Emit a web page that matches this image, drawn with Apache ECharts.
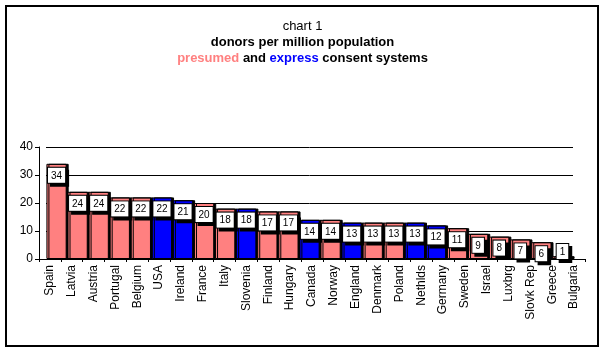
<!DOCTYPE html>
<html>
<head>
<meta charset="utf-8">
<script src="https://cdn.jsdelivr.net/npm/echarts@6/dist/echarts.min.js"></script>
<style>
  html, body { margin: 0; padding: 0; background: #fff; }
  #chart { width: 605px; height: 352px; }
</style>
</head>
<body>
<div id="chart"></div>
<script>
// data
const countries = ['Spain', 'Latvia', 'Austria', 'Portugal', 'Belgium', 'USA', 'Ireland', 'France', 'Italy',
  'Slovenia', 'Finland', 'Hungary', 'Canada', 'Norway', 'England', 'Denmark', 'Poland', 'Nethlds',
  'Germany', 'Sweden', 'Israel', 'Luxbrg', 'Slovk Rep', 'Greece', 'Bulgaria'];
const donors = [34, 24, 24, 22, 22, 22, 21, 20, 18, 18, 17, 17, 14, 14, 13, 13, 13, 13, 12, 11, 9, 8, 7, 6, 1];
// P = presumed consent, E = express consent
const consent = ['P', 'P', 'P', 'P', 'P', 'E', 'E', 'P', 'P', 'E', 'P', 'P', 'E', 'P', 'E', 'P', 'P', 'E',
  'E', 'P', 'P', 'P', 'P', 'P', 'P'];
const yTicks = [0, 10, 20, 30, 40];

const PINK = '#ff8080';
const BLUE = '#0000ff';
const font = 'Arial, "Liberation Sans", sans-serif';

const chart = echarts.init(document.getElementById('chart'));

// very short bars get their box sitting on the floor
const labelPos = (v) => (v < 3 ? { position: 'insideBottom', distance: 0 } : {});

const barData = donors.map((v, i) => ({
  value: v,
  itemStyle: { color: consent[i] === 'E' ? BLUE : PINK },
}));

// black box behind each white label, acts as its drop shadow
const shadowData = donors.map((v) => ({ value: v, label: labelPos(v) }));
const boxData = donors.map((v) => ({ value: v, label: labelPos(v) }));

const baseLabel = {
  show: true,
  position: 'insideTop',
  distance: 4,
  fontSize: 10,
  fontFamily: font,
  borderColor: '#000',
  borderWidth: 1,
  padding: [3, 3, 2, 3],
};

const option = {
  backgroundColor: '#fff',
  animation: false,
  title: {
    left: 'center',
    top: 18,
    padding: 0,
    text: '{n|chart 1}\n{b|donors per million population}\n{p|presumed}{b| and }{e|express}{b| consent systems}',
    textStyle: {
      fontFamily: font,
      fontWeight: 'normal',
      rich: {
        n: { fontSize: 13, fontWeight: 'normal', color: '#000', lineHeight: 16, fontFamily: font },
        b: { fontSize: 13, fontWeight: 'bold', color: '#000', lineHeight: 16, fontFamily: font },
        p: { fontSize: 13, fontWeight: 'bold', color: PINK, lineHeight: 16, fontFamily: font },
        e: { fontSize: 13, fontWeight: 'bold', color: BLUE, lineHeight: 16, fontFamily: font },
      },
    },
  },
  graphic: [
    {
      type: 'rect',
      shape: { x: 6, y: 6, width: 592, height: 340 },
      style: { fill: 'none', stroke: '#000', lineWidth: 2 },
      silent: true,
    },
  ],
  grid: [
    // front: axes and labels
    { left: 39, right: 20, top: 147, bottom: 93 },
    // back: bars and gridlines
    { left: 46, right: 32, top: 147, bottom: 93 },
  ],
  xAxis: [
    {
      type: 'category',
      gridIndex: 0,
      data: countries,
      boundaryGap: true,
      axisLine: { lineStyle: { color: '#000', width: 1 } },
      axisTick: { show: true, length: 3, lineStyle: { color: '#000' } },
      axisLabel: {
        rotate: 90,
        interval: 0,
        color: '#000',
        fontSize: 12,
        fontFamily: font,
        margin: 6,
      },
    },
    {
      type: 'category',
      gridIndex: 1,
      data: countries,
      show: false,
    },
  ],
  yAxis: [
    {
      type: 'value',
      gridIndex: 0,
      min: yTicks[0],
      max: yTicks[yTicks.length - 1],
      interval: 10,
      axisLine: { show: true, lineStyle: { color: '#000' } },
      axisTick: { show: true, length: 4, lineStyle: { color: '#000' } },
      axisLabel: { color: '#000', fontSize: 12, fontFamily: font, margin: 6 },
      splitLine: { show: false },
    },
    {
      type: 'value',
      gridIndex: 1,
      min: yTicks[0],
      max: yTicks[yTicks.length - 1],
      interval: 10,
      axisLine: { show: false },
      axisTick: { show: false },
      axisLabel: { show: false },
      splitLine: { show: true, lineStyle: { color: '#000', width: 1 } },
    },
  ],
  series: [
    {
      name: 'donors',
      type: 'bar',
      xAxisIndex: 1,
      yAxisIndex: 1,
      barWidth: '96%',
      data: barData,
      itemStyle: {
        borderColor: '#000',
        borderWidth: 1,
        shadowColor: '#000',
        shadowOffsetX: 2,
        shadowOffsetY: 0,
        shadowBlur: 0,
      },
      label: { show: false },
    },
    {
      name: 'labelShadow',
      type: 'bar',
      xAxisIndex: 1,
      yAxisIndex: 1,
      barWidth: '96%',
      barGap: '-100%',
      data: shadowData,
      itemStyle: { color: 'rgba(0,0,0,0)', borderWidth: 0 },
      label: Object.assign({}, baseLabel, {
        color: '#000',
        backgroundColor: '#000',
        offset: [3, 3],
      }),
      silent: true,
    },
    {
      name: 'labelBox',
      type: 'bar',
      xAxisIndex: 1,
      yAxisIndex: 1,
      barWidth: '96%',
      barGap: '-100%',
      data: boxData,
      itemStyle: { color: 'rgba(0,0,0,0)', borderWidth: 0 },
      label: Object.assign({}, baseLabel, {
        color: '#000',
        backgroundColor: '#fff',
      }),
      silent: true,
    },
  ],
};

chart.setOption(option);
</script>
</body>
</html>
